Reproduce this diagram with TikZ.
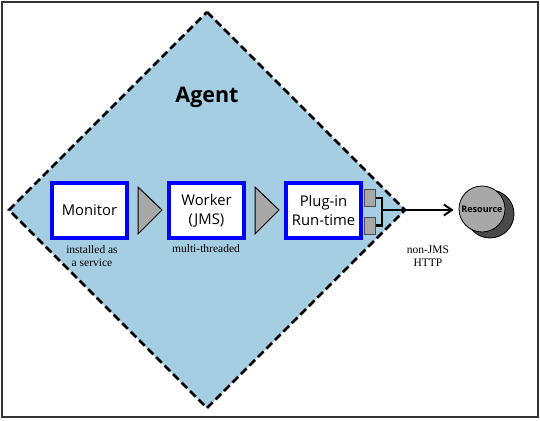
\documentclass[tikz,border=0pt]{standalone}
\usepackage{fontspec}
\setmainfont{Liberation Serif}
\setsansfont{Open Sans}
\usetikzlibrary{arrows.meta}
\definecolor{agentblue}{HTML}{A6CEE3}
\definecolor{portgray}{HTML}{A8A8A8}
\definecolor{resdark}{HTML}{4A4A4A}
\definecolor{framegray}{HTML}{333333}
\tikzset{
  compbox/.style={draw=blue, line width=4pt, fill=white, minimum width=75pt, minimum height=55pt, inner sep=0pt, align=center, font=\sffamily\fontsize{14.8}{19}\selectfont},
  portbox/.style={draw=black!70, line width=1pt, fill=portgray, minimum width=11pt, minimum height=17pt, inner sep=0pt},
  flowtri/.style={draw=black, line width=1pt, fill=portgray},
  note/.style={font=\rmfamily\fontsize{11.5}{13.5}\selectfont, align=center, inner sep=0pt},
}
\begin{document}
\begin{tikzpicture}[x=1pt, y=-1pt]
\useasboundingbox (0,0) rectangle (540,420);
% frame
\draw[framegray, line width=2pt] (2,2) rectangle (538,417);
% diamond
\coordinate (dtop) at (207,12);
\coordinate (dright) at (405,210);
\coordinate (dbottom) at (207,408);
\coordinate (dleft) at (9,210);
\draw[fill=agentblue, line width=2.5pt, dash pattern=on 8pt off 4pt] (dtop) -- (dright) -- (dbottom) -- (dleft) -- cycle;
\node[font=\sffamily\bfseries\fontsize{21.5}{25}\selectfont] (agent) at (207,97) {Agent};
% boxes
\node[compbox] (monitor) at (89.5,210.5) {Monitor};
\node[compbox] (worker) at (206.5,210.5) {Worker\\(JMS)};
\node[compbox] (plugin) at (323.5,210.5) {Plug-in\\Run-time};
% triangles
\draw[flowtri] (138,187) -- (162,210) -- (138,234) -- cycle;
\draw[flowtri] (255,187) -- (279,210) -- (255,234) -- cycle;
% ports
\node[portbox] (port1) at (370,198) {};
\node[portbox] (port2) at (370,225.5) {};
\coordinate (junction) at (382,210);
\draw[line width=2.5pt] (port1.east) -- (junction |- port1.east) -- (junction |- port2.east) -- (port2.east);
% resource
\fill[resdark, draw=black, line width=0.8pt] (490,214) circle (24);
\node[circle, draw=black, line width=0.8pt, fill=portgray, minimum size=46pt, inner sep=0pt, font=\sffamily\bfseries\fontsize{9}{11}\selectfont] (resource) at (482,209) {Resource};
\draw[line width=2pt, -{Straight Barb[length=8pt,width=11pt,line width=2pt]}] (junction) -- ([xshift=-5pt]resource.west |- junction);
% notes
\node[note] (n1) at (92,256) {installed as\\a service};
\node[note] (n2) at (206,249) {multi-threaded};
\node[note] (n3) at (428,256) {non-JMS\\HTTP};
\end{tikzpicture}
\end{document}
